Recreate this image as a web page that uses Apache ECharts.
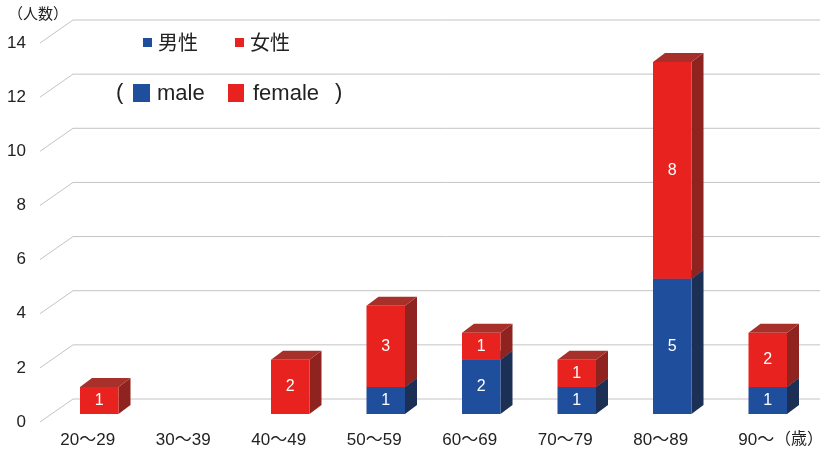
<!DOCTYPE html>
<html>
<head>
<meta charset="utf-8">
<script src="https://cdn.jsdelivr.net/npm/echarts@6/dist/echarts.min.js"></script>
<style>
  html, body { margin: 0; padding: 0; background: #fff; }
  #chart { width: 820px; height: 456px; }
</style>
</head>
<body>
<div id="chart"></div>
<script>
// Age groups (歳) and head counts (人数)
const categories = ['20～29', '30～39', '40～49', '50～59', '60～69', '70～79', '80～89', '90～'];
const male   = [0, 0, 0, 1, 2, 1, 5, 1];
const female = [1, 0, 2, 3, 1, 1, 8, 2];
const yTicks = [0, 2, 4, 6, 8, 10, 12, 14];

// pseudo-3D geometry (pixels)
const WALL = [33, -23];     // depth of the floor / back wall
const BAR_POS = [11.5, -8]; // where the bar front sits inside the floor
const BAR_DEPTH = [12, -9];
const BAR_W = 38.5;

const COLORS = {
  male:   { front: '#1f4e9c', side: '#1c2f55', top: '#2a4a86' },
  female: { front: '#e8231f', side: '#8e2320', top: '#a8302a' }
};

const CJK = '"Noto Sans CJK JP", "Liberation Sans", sans-serif';
const LAT = '"Liberation Sans", Arial, sans-serif';
const MIX = '"Liberation Sans", "Noto Sans CJK JP", sans-serif';

function gridRender(params, api) {
  const v = api.value(0);
  const p = api.coord([0, v]);
  const x0 = params.coordSys.x;
  const y0 = p[1];
  const right = params.coordSys.x + params.coordSys.width + 16;
  return {
    type: 'polyline',
    shape: { points: [[x0, y0], [x0 + WALL[0], y0 + WALL[1]], [right, y0 + WALL[1]]] },
    style: { stroke: '#c4c4c4', lineWidth: 1, fill: null },
    silent: true
  };
}

function makeBarRender(col) {
  return function (params, api) {
    const idx = api.value(0);
    const lo = api.value(1);
    const hi = api.value(2);
    if (hi <= lo) return { type: 'group', children: [] };
    const pLo = api.coord([idx, lo]);
    const pHi = api.coord([idx, hi]);
    const cx = pLo[0] + BAR_POS[0];
    const x1 = cx - BAR_W / 2, x2 = cx + BAR_W / 2;
    const yb = pLo[1] + BAR_POS[1];
    const yt = pHi[1] + BAR_POS[1];
    const dx = BAR_DEPTH[0], dy = BAR_DEPTH[1];
    return {
      type: 'group',
      children: [
        { type: 'polygon', shape: { points: [[x2, yb], [x2 + dx, yb + dy], [x2 + dx, yt + dy], [x2, yt]] },
          style: { fill: col.side } },
        { type: 'polygon', shape: { points: [[x1, yt], [x1 + dx, yt + dy], [x2 + dx, yt + dy], [x2, yt]] },
          style: { fill: col.top } },
        { type: 'rect', shape: { x: x1, y: yt, width: BAR_W, height: yb - yt },
          style: { fill: col.front } },
        { type: 'text', style: { text: String(hi - lo), x: cx, y: (yt + yb) / 2,
            align: 'center', verticalAlign: 'middle', fill: '#ffffff', font: '16px ' + LAT } }
      ]
    };
  };
}

const maleData = categories.map((c, i) => [i, 0, male[i]]);
const femaleData = categories.map((c, i) => [i, male[i], male[i] + female[i]]);

const chart = echarts.init(document.getElementById('chart'), null, { renderer: 'canvas' });
chart.setOption({
  animation: false,
  backgroundColor: '#ffffff',
  grid: { left: 40, right: 16, top: 43, bottom: 34 },
  xAxis: {
    type: 'category',
    data: categories,
    axisLine: { show: false },
    axisTick: { show: false },
    axisLabel: { color: '#222', fontSize: 17, fontFamily: MIX, margin: 10 }
  },
  yAxis: {
    type: 'value',
    min: 0, max: 14, interval: 2,
    axisLine: { show: false },
    axisTick: { show: false },
    splitLine: { show: false },
    axisLabel: { color: '#222', fontSize: 17, fontFamily: LAT, margin: 14, padding: [3, 0, 0, 0] }
  },
  series: [
    { type: 'custom', name: 'grid', renderItem: gridRender, data: yTicks.map(v => [v]),
      encode: { y: 0 }, z: 1, silent: true },
    { type: 'custom', name: '男性', renderItem: makeBarRender(COLORS.male), data: maleData,
      encode: { x: 0, y: [1, 2] }, z: 2 },
    { type: 'custom', name: '女性', renderItem: makeBarRender(COLORS.female), data: femaleData,
      encode: { x: 0, y: [1, 2] }, z: 3 }
  ],
  graphic: [
    { type: 'text', left: 8, top: 6, style: { text: '（人数）', font: '15px ' + CJK, fill: '#222' } },
    { type: 'text', left: 775, top: 430, style: { text: '（歳）', font: '16px ' + CJK, fill: '#222' } },
    // legend, first row
    { type: 'rect', shape: { x: 143, y: 38, width: 9, height: 9 }, style: { fill: COLORS.male.front } },
    { type: 'text', left: 158, top: 32, style: { text: '男性', font: '20px ' + CJK, fill: '#222' } },
    { type: 'rect', shape: { x: 235, y: 38, width: 9, height: 9 }, style: { fill: COLORS.female.front } },
    { type: 'text', left: 250, top: 32, style: { text: '女性', font: '20px ' + CJK, fill: '#222' } },
    // legend, second row
    { type: 'text', left: 116, top: 82, style: { text: '(', font: '22px ' + LAT, fill: '#222' } },
    { type: 'rect', shape: { x: 133, y: 84, width: 17, height: 18 }, style: { fill: COLORS.male.front } },
    { type: 'text', left: 157, top: 83, style: { text: 'male', font: '22px ' + LAT, fill: '#222' } },
    { type: 'rect', shape: { x: 228, y: 84, width: 16, height: 18 }, style: { fill: COLORS.female.front } },
    { type: 'text', left: 253, top: 83, style: { text: 'female', font: '22px ' + LAT, fill: '#222' } },
    { type: 'text', left: 335, top: 82, style: { text: ')', font: '22px ' + LAT, fill: '#222' } }
  ]
});
</script>
</body>
</html>
